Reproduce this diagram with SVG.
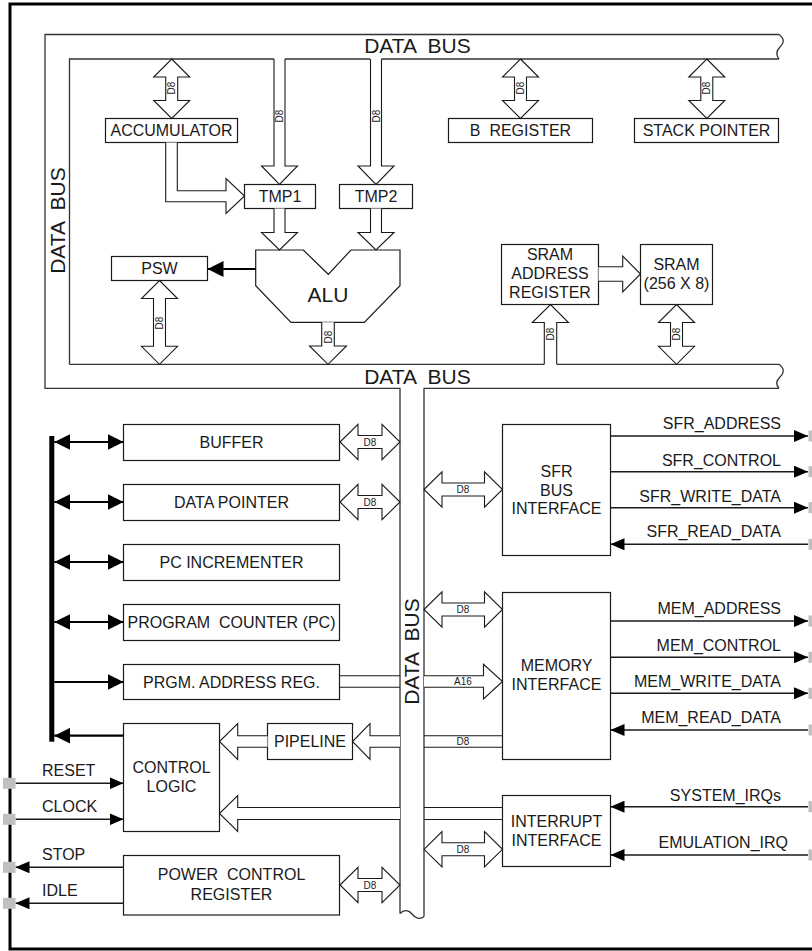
<svg xmlns="http://www.w3.org/2000/svg" width="812" height="951" viewBox="0 0 812 951">
<style>
text{font-family:"Liberation Sans",Arial,sans-serif;fill:#1a1a1a}
.t{font-size:16px;text-anchor:middle}
.big{font-size:21px;text-anchor:middle}
.sm{font-size:10px;text-anchor:middle}
.sig{font-size:16px;text-anchor:end}
.lbl{font-size:16px;text-anchor:start}
.box{fill:#fff;stroke:#1a1a1a;stroke-width:1.2}
.bus{fill:none;stroke:#333;stroke-width:1.3}
.wa{fill:#fff;stroke:#1a1a1a;stroke-width:1.1;stroke-linejoin:miter}
.wl{fill:none;stroke:#1a1a1a;stroke-width:1.1}
.ln{fill:none;stroke:#1a1a1a;stroke-width:1.6}
.lt{fill:none;stroke:#000;stroke-width:2.2}
.pin{fill:#c0c0c0}
</style>
<defs>
<marker id="ah" viewBox="0 0 14 12" refX="14" refY="6" markerWidth="14" markerHeight="12" markerUnits="userSpaceOnUse" orient="auto-start-reverse">
<path d="M0,0 L14,6 L0,12 Z" fill="#000"/>
</marker>
<marker id="ahb" viewBox="0 0 16 16" refX="16" refY="8" markerWidth="16" markerHeight="16" markerUnits="userSpaceOnUse" orient="auto-start-reverse">
<path d="M0,0 L16,8 L0,16 Z" fill="#000"/>
</marker>
</defs>
<rect x="0" y="0" width="812" height="951" fill="#fff"/>
<path d="M812,4 H10 V949 H812" fill="none" stroke="#000" stroke-width="3"/>

<g id="data-bus">
<path class="bus" d="M779,34.5 H45 V388.3 H400 V913.5"/>
<path class="bus" d="M400,913.5 C404,909 409,910 412,914 C415,918 420,920 424,916.5"/>
<path class="bus" d="M424,916.5 V388.3 H779"/>
<path class="bus" d="M779,34.5 C785,39 784,43 780,47 C776,51 776,55 779,59"/>
<path class="bus" d="M779,364.3 C785,369 784,373 780,377 C776,381 776,385 779,388.3"/>
<path class="bus" d="M69.5,364.3 V59 H274 M285,59 H370 M381.5,59 H779"/>
<path class="bus" d="M69.5,364.3 H544.3 M556.7,364.3 H779"/>
<text class="big" x="417.5" y="53" xml:space="preserve">DATA  BUS</text>
<text class="big" x="417.5" y="383.5" xml:space="preserve">DATA  BUS</text>
<text class="big" transform="translate(65,220.5) rotate(-90)" xml:space="preserve">DATA  BUS</text>
<text class="big" transform="translate(419,651.5) rotate(-90)" xml:space="preserve">DATA  BUS</text>
</g>

<g id="accumulator"><rect class="box" x="105.5" y="118.5" width="132" height="24"/><text class="t" x="171.5" y="136.3">ACCUMULATOR</text></g>
<g id="tmp1"><rect class="box" x="244.5" y="184.5" width="71" height="24"/><text class="t" x="280" y="202.3">TMP1</text></g>
<g id="tmp2"><rect class="box" x="339.5" y="184.5" width="73" height="24"/><text class="t" x="376" y="202.3">TMP2</text></g>
<g id="b-register"><rect class="box" x="448.5" y="118.5" width="144" height="24"/><text class="t" x="520.5" y="136.3" xml:space="preserve">B  REGISTER</text></g>
<g id="stack-pointer"><rect class="box" x="634.5" y="118.5" width="144" height="24"/><text class="t" x="706.5" y="136.3">STACK POINTER</text></g>
<g id="psw"><rect class="box" x="111.5" y="256.5" width="96" height="24"/><text class="t" x="159.5" y="274.3">PSW</text></g>
<g id="alu"><path class="box" d="M255.7,250 H303.3 L328.3,274.3 L351,250 H400 V285.7 L364.3,322.3 H291 L255.7,285.7 Z"/><text class="big" x="328" y="301.7">ALU</text></g>
<g id="sram-address-register"><rect class="box" x="501.5" y="244.5" width="97" height="60"/><text class="t" x="550" y="260">SRAM</text><text class="t" x="550" y="279">ADDRESS</text><text class="t" x="550" y="297.5">REGISTER</text></g>
<g id="sram"><rect class="box" x="640.5" y="244.5" width="72" height="60"/><text class="t" x="676.5" y="270">SRAM</text><text class="t" x="676.5" y="289">(256 X 8)</text></g>

<g id="buffer"><rect class="box" x="123.5" y="424.5" width="216" height="36"/><text class="t" x="231.5" y="447.8">BUFFER</text></g>
<g id="data-pointer"><rect class="box" x="123.5" y="484.5" width="216" height="36"/><text class="t" x="231.5" y="507.8">DATA POINTER</text></g>
<g id="pc-incrementer"><rect class="box" x="123.5" y="544.5" width="216" height="36"/><text class="t" x="231.5" y="567.8">PC INCREMENTER</text></g>
<g id="program-counter"><rect class="box" x="123.5" y="604.5" width="216" height="36"/><text class="t" x="231.5" y="627.8" xml:space="preserve">PROGRAM  COUNTER (PC)</text></g>
<g id="prgm-address-reg"><rect class="box" x="123.5" y="664.5" width="216" height="35"/><text class="t" x="231.5" y="687.8">PRGM. ADDRESS REG.</text></g>
<g id="pipeline"><rect class="box" x="267.5" y="723.5" width="85" height="36"/><text class="t" x="310" y="747.3">PIPELINE</text></g>
<g id="control-logic"><rect class="box" x="123.5" y="723.5" width="96" height="108"/><text class="t" x="171.5" y="773.4">CONTROL</text><text class="t" x="171.5" y="792.4">LOGIC</text></g>
<g id="power-control-register"><rect class="box" x="123.5" y="855.5" width="216" height="59.5"/><text class="t" x="231.5" y="880" xml:space="preserve">POWER  CONTROL</text><text class="t" x="231.5" y="900">REGISTER</text></g>
<g id="sfr-bus-interface"><rect class="box" x="502.5" y="424.5" width="108" height="131"/><text class="t" x="556.5" y="476.7">SFR</text><text class="t" x="556.5" y="495.7">BUS</text><text class="t" x="556.5" y="514">INTERFACE</text></g>
<g id="memory-interface"><rect class="box" x="502.5" y="592.5" width="108" height="167"/><text class="t" x="556.5" y="671.4">MEMORY</text><text class="t" x="556.5" y="690">INTERFACE</text></g>
<g id="interrupt-interface"><rect class="box" x="502.5" y="795.5" width="108" height="71"/><text class="t" x="556.5" y="827.4">INTERRUPT</text><text class="t" x="556.5" y="845.7">INTERFACE</text></g>

<g id="connectors">
<path class="wa" d="M171.7,59 L189.7,77 H177.7 V100.5 H189.7 L171.7,118.5 L153.7,100.5 H165.7 V77 H153.7 Z"/>
<text class="sm" transform="translate(175.3,88) rotate(-90)">D8</text>
<path class="wa" d="M520.5,59 L538.5,77 H526.5 V100.5 H538.5 L520.5,118.5 L502.5,100.5 H514.5 V77 H502.5 Z"/>
<text class="sm" transform="translate(524.1,88) rotate(-90)">D8</text>
<path class="wa" d="M706.8,59 L724.8,77 H712.8 V100.5 H724.8 L706.8,118.5 L688.8,100.5 H700.8 V77 H688.8 Z"/>
<text class="sm" transform="translate(710.4,88) rotate(-90)">D8</text>
<path class="wa" d="M159.5,280.5 L177.5,298.5 H165.5 V346.3 H177.5 L159.5,364.3 L141.5,346.3 H153.5 V298.5 H141.5 Z"/>
<text class="sm" transform="translate(163.1,323) rotate(-90)">D8</text>
<path class="wa" d="M676.5,304.5 L694.5,322.5 H682.5 V346.3 H694.5 L676.5,364.3 L658.5,346.3 H670.5 V322.5 H658.5 Z"/>
<text class="sm" transform="translate(680.1,334) rotate(-90)">D8</text>
<path class="wa" d="M274,59 V166 H261.5 L279.5,184.5 L297.5,166 H285 V59"/>
<text class="sm" transform="translate(283.1,116) rotate(-90)">D8</text>
<path class="wa" d="M370.5,59 V166 H358 L376,184.5 L394,166 H381.5 V59"/>
<text class="sm" transform="translate(379.6,116) rotate(-90)">D8</text>
<path class="wa" d="M274,208.5 V232.5 H261.5 L279.5,250 L297.5,232.5 H285 V208.5"/>
<path class="wa" d="M370.5,208.5 V232.5 H358 L376,250 L394,232.5 H381.5 V208.5"/>
<path class="wa" d="M321.7,322.3 V346 H309.5 L328,364.3 L346.5,346 H334.3 V322.3"/>
<text class="sm" transform="translate(331.6,337) rotate(-90)">D8</text>
<path class="wa" d="M544.3,364.3 V322.5 H532.3 L550.5,304.5 L568.5,322.5 H556.7 V364.3"/>
<text class="sm" transform="translate(554.1,334) rotate(-90)">D8</text>
<path class="wa" d="M165.7,142.5 V201.7 H226 V213.5 L244.5,196 L226,178.5 V190.7 H177.3 V142.5"/>
<path class="wa" d="M598.5,266.8 H622.7 V256 L640.5,274 L622.7,292 V281.2 H598.5"/>
<line class="lt" x1="255.7" y1="269" x2="207.5" y2="269" marker-end="url(#ahb)"/>

<path class="wa" d="M340,442 L358,424.3 V435.5 H382 V424.3 L400,442 L382,459.7 V448.5 H358 V459.7 Z"/>
<text class="sm" x="370" y="445.6">D8</text>
<path class="wa" d="M340,502 L358,484.3 V495.5 H382 V484.3 L400,502 L382,519.7 V508.5 H358 V519.7 Z"/>
<text class="sm" x="370" y="505.6">D8</text>
<path class="wa" d="M340,885 L358,867.3 V878.5 H382 V867.3 L400,885 L382,902.7 V891.5 H358 V902.7 Z"/>
<text class="sm" x="370" y="888.6">D8</text>
<path class="wa" d="M424,489.5 L442,471.8 V483 H484.5 V471.8 L502.5,489.5 L484.5,507.2 V496 H442 V507.2 Z"/>
<text class="sm" x="463" y="493.1">D8</text>
<path class="wa" d="M424,609.5 L442,591.8 V603 H484.5 V591.8 L502.5,609.5 L484.5,627.2 V616 H442 V627.2 Z"/>
<text class="sm" x="463" y="613.1">D8</text>
<path class="wa" d="M424,849.3 L442,831.6 V842.8 H484.5 V831.6 L502.5,849.3 L484.5,867 V855.8 H442 V867 Z"/>
<text class="sm" x="463" y="852.9">D8</text>
<path class="wl" d="M340,675.7 H400 M340,687.3 H400"/>
<path class="wa" d="M424,675.7 H483.5 V664.3 L502.5,681.5 L483.5,699 V687.3 H424"/>
<text class="sm" x="463" y="685">A16</text>
<path class="wl" d="M424,735.7 H502.5 M424,747.3 H502.5"/>
<text class="sm" x="463" y="745.2">D8</text>
<path class="wa" d="M400,735.7 H370 V723.5 L352.5,741.5 L370,759.5 V747.3 H400"/>
<path class="wa" d="M267.5,735.7 H237.7 V723.5 L219.5,741.5 L237.7,759.5 V747.3 H267.5"/>
<path class="wl" d="M424,807.5 H502.5 M424,819.5 H502.5"/>
<path class="wa" d="M400,807.5 H237.7 V795.5 L219.5,813.5 L237.7,831.5 V819.5 H400"/>

<rect x="49.3" y="436" width="5" height="305.7" fill="#000"/>
<line class="lt" x1="54.3" y1="442" x2="123.5" y2="442" marker-start="url(#ahb)" marker-end="url(#ahb)"/>
<line class="lt" x1="54.3" y1="502" x2="123.5" y2="502" marker-start="url(#ahb)" marker-end="url(#ahb)"/>
<line class="lt" x1="54.3" y1="562" x2="123.5" y2="562" marker-start="url(#ahb)" marker-end="url(#ahb)"/>
<line class="lt" x1="54.3" y1="622" x2="123.5" y2="622" marker-start="url(#ahb)" marker-end="url(#ahb)"/>
<line class="lt" x1="54.3" y1="682" x2="123.5" y2="682" marker-end="url(#ahb)"/>
<line class="lt" x1="123.5" y1="735.7" x2="54.3" y2="735.7" marker-end="url(#ahb)"/>

<line class="ln" x1="15.5" y1="783.3" x2="123.5" y2="783.3" marker-end="url(#ah)"/>
<line class="ln" x1="15.5" y1="819.3" x2="123.5" y2="819.3" marker-end="url(#ah)"/>
<line class="ln" x1="123.5" y1="867.3" x2="15.5" y2="867.3" marker-end="url(#ah)"/>
<line class="ln" x1="123.5" y1="903.3" x2="15.5" y2="903.3" marker-end="url(#ah)"/>
<rect class="pin" x="3" y="777.8" width="12.5" height="11"/>
<rect class="pin" x="3" y="813.8" width="12.5" height="11"/>
<rect class="pin" x="3" y="861.8" width="12.5" height="11"/>
<rect class="pin" x="3" y="897.8" width="12.5" height="11"/>
<text class="lbl" x="42" y="775.8">RESET</text>
<text class="lbl" x="42" y="812.3">CLOCK</text>
<text class="lbl" x="42" y="859.8">STOP</text>
<text class="lbl" x="42" y="895.8">IDLE</text>

<line class="ln" x1="610.5" y1="436" x2="808" y2="436" marker-end="url(#ah)"/>
<line class="ln" x1="610.5" y1="471.7" x2="808" y2="471.7" marker-end="url(#ah)"/>
<line class="ln" x1="610.5" y1="507.7" x2="808" y2="507.7" marker-end="url(#ah)"/>
<line class="ln" x1="808" y1="544.3" x2="610.5" y2="544.3" marker-end="url(#ah)"/>
<line class="ln" x1="610.5" y1="621" x2="808" y2="621" marker-end="url(#ah)"/>
<line class="ln" x1="610.5" y1="657.3" x2="808" y2="657.3" marker-end="url(#ah)"/>
<line class="ln" x1="610.5" y1="693.3" x2="808" y2="693.3" marker-end="url(#ah)"/>
<line class="ln" x1="808" y1="730" x2="610.5" y2="730" marker-end="url(#ah)"/>
<line class="ln" x1="808" y1="806.7" x2="610.5" y2="806.7" marker-end="url(#ah)"/>
<line class="ln" x1="808" y1="855" x2="610.5" y2="855" marker-end="url(#ah)"/>
<rect class="pin" x="808.5" y="430.5" width="6" height="11"/>
<rect class="pin" x="808.5" y="466.2" width="6" height="11"/>
<rect class="pin" x="808.5" y="502.2" width="6" height="11"/>
<rect class="pin" x="808.5" y="538.8" width="6" height="11"/>
<rect class="pin" x="808.5" y="615.5" width="6" height="11"/>
<rect class="pin" x="808.5" y="651.8" width="6" height="11"/>
<rect class="pin" x="808.5" y="687.8" width="6" height="11"/>
<rect class="pin" x="808.5" y="724.5" width="6" height="11"/>
<rect class="pin" x="808.5" y="801.2" width="6" height="11"/>
<rect class="pin" x="808.5" y="849.5" width="6" height="11"/>
<text class="sig" x="781" y="429">SFR_ADDRESS</text>
<text class="sig" x="781" y="465.5">SFR_CONTROL</text>
<text class="sig" x="781" y="501.5">SFR_WRITE_DATA</text>
<text class="sig" x="781" y="536.5">SFR_READ_DATA</text>
<text class="sig" x="781" y="614">MEM_ADDRESS</text>
<text class="sig" x="781" y="650.5">MEM_CONTROL</text>
<text class="sig" x="781" y="686.5">MEM_WRITE_DATA</text>
<text class="sig" x="781" y="722.5">MEM_READ_DATA</text>
<text class="sig" x="781" y="800.5">SYSTEM_IRQs</text>
<text class="sig" x="788" y="848">EMULATION_IRQ</text>
</g>
</svg>
